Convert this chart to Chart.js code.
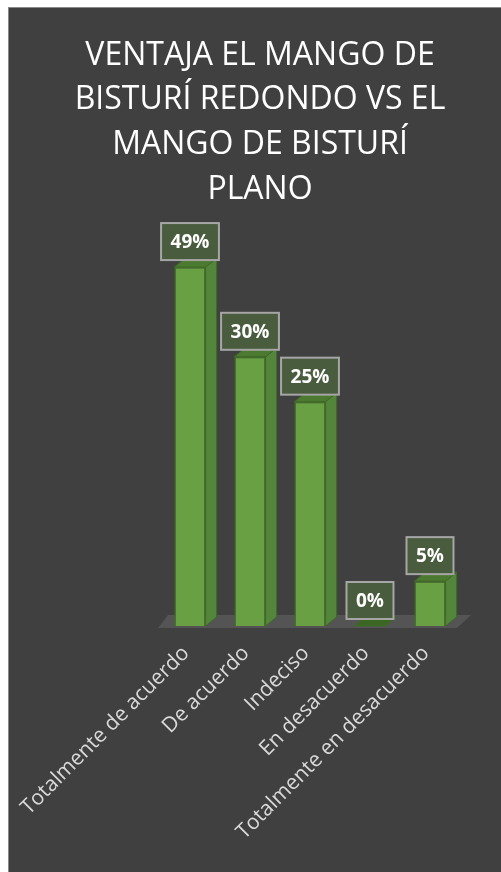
<!DOCTYPE html>
<html>
<head>
<meta charset="utf-8">
<script src="https://cdn.jsdelivr.net/npm/chart.js@4/dist/chart.umd.min.js"></script>
<style>
  body { margin: 0; background: #ffffff; }
  #box {
    position: absolute; left: 8px; top: 7px; width: 493px; height: 865px;
    background: #404040; box-sizing: border-box;
    border-top: 1px solid #8a8a8a; border-left: 1px solid #8a8a8a;
  }
</style>
</head>
<body>
<div id="box"><canvas id="chart"></canvas></div>
<script>
const titleLines = ["VENTAJA EL MANGO DE", "BISTURÍ REDONDO VS EL", "MANGO DE BISTURÍ", "PLANO"];
const categories = ["Totalmente de acuerdo", "De acuerdo", "Indeciso", "En desacuerdo", "Totalmente en desacuerdo"];
// bar heights as drawn; the first label in the picture reads 49% although the bar stands at 40
const values = [40, 30, 25, 0, 5];
const valueLabels = ["49%", "30%", "25%", "0%", "5%"];

const DX = 11, DY = 9;

// floor, side and top faces, and the boxed value labels
const bars3d = {
  id: "bars3d",
  beforeDatasetsDraw(chart) {
    const { ctx, chartArea: a } = chart;
    ctx.save();
    ctx.fillStyle = "#545454";
    ctx.beginPath();
    ctx.moveTo(a.left - 2, a.bottom + 2);
    ctx.lineTo(a.right - 3, a.bottom + 2);
    ctx.lineTo(a.right + 11, a.bottom - 11);
    ctx.lineTo(a.left + 8, a.bottom - 11);
    ctx.closePath();
    ctx.fill();
    ctx.restore();
  },
  afterDatasetsDraw(chart) {
    const ctx = chart.ctx;
    const meta = chart.getDatasetMeta(0);
    ctx.save();
    meta.data.forEach((bar, i) => {
      const { x, y, base, width } = bar.getProps(["x", "y", "base", "width"], true);
      const l = x - width / 2, r = x + width / 2;
      // side
      if (base - y > 0) {
        ctx.fillStyle = "#53853a";
        ctx.strokeStyle = "#3f6a26";
        ctx.lineWidth = 1;
        ctx.beginPath();
        ctx.moveTo(r, y);
        ctx.lineTo(r + DX, y - DY);
        ctx.lineTo(r + DX, base - DY);
        ctx.lineTo(r, base);
        ctx.closePath();
        ctx.fill();
        ctx.stroke();
      }
      // top
      ctx.fillStyle = base - y > 0 ? "#4d7a31" : "#3b6624";
      ctx.strokeStyle = "#3f6a26";
      ctx.lineWidth = 1;
      ctx.beginPath();
      ctx.moveTo(l, y);
      ctx.lineTo(l + DX, y - DY);
      ctx.lineTo(r + DX, y - DY);
      ctx.lineTo(r, y);
      ctx.closePath();
      ctx.fill();
      ctx.stroke();

      // value label box
      ctx.font = "bold 19px 'Open Sans'";
      const t = valueLabels[i];
      const w = ctx.measureText(t).width + 19, h = 37;
      const bx = x - w / 2, by = y - 7 - h;
      ctx.fillStyle = "#4a5c3e";
      ctx.fillRect(bx, by, w, h);
      ctx.strokeStyle = "#a6a6a6";
      ctx.lineWidth = 2;
      ctx.strokeRect(bx, by, w, h);
      ctx.fillStyle = "#ffffff";
      ctx.textAlign = "center";
      ctx.textBaseline = "middle";
      ctx.fillText(t, x, by + h / 2 + 1);
    });
    ctx.restore();
  }
};

new Chart(document.getElementById("chart"), {
  type: "bar",
  data: {
    labels: categories,
    datasets: [{
      data: values,
      backgroundColor: "#69a043",
      borderColor: "#446f29",
      borderWidth: 1.5,
      barPercentage: 0.52,
      categoryPercentage: 1
    }]
  },
  options: {
    responsive: true,
    maintainAspectRatio: false,
    animation: false,
    layout: { padding: { left: 10 } },
    plugins: {
      legend: { display: false },
      tooltip: { enabled: false },
      title: {
        display: true,
        text: titleLines,
        color: "#ffffff",
        font: { family: "'Open Sans'", size: 32, weight: "normal", lineHeight: 1.4 },
        padding: { top: 25, bottom: 10 }
      }
    },
    scales: {
      x: {
        grid: { display: false },
        border: { display: false },
        ticks: {
          color: "#d9d9d9",
          font: { family: "'Open Sans'", size: 21 },
          minRotation: 45,
          maxRotation: 45,
          padding: 7,
          labelOffset: -4,
          autoSkip: false
        },
        afterFit(s) {
          s.height = 246;
          s.paddingLeft = 0;
          s.paddingRight = 0;
        }
      },
      y: {
        min: 0, max: 45,
        grid: { display: false },
        border: { display: false },
        ticks: { display: false },
        afterFit(s) { s.width = 141; }
      },
      yRight: {
        position: "right",
        grid: { display: false },
        border: { display: false },
        ticks: { display: false },
        afterFit(s) { s.width = 41; }
      }
    }
  },
  plugins: [bars3d]
});
</script>
</body>
</html>
